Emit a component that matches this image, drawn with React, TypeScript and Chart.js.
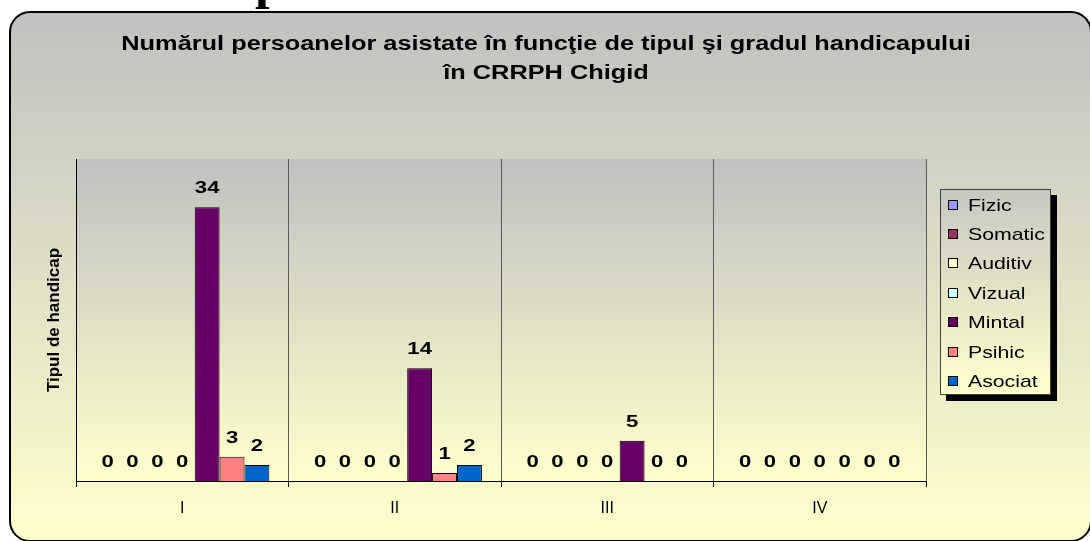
import React, { useEffect, useRef } from "react";
import { Chart, registerables } from "chart.js";

Chart.register(...registerables);

// ---------- data ----------
const categories = ["I", "II", "III", "IV"];
const seriesNames = ["Fizic", "Somatic", "Auditiv", "Vizual", "Mintal", "Psihic", "Asociat"];
const seriesColors = ["#9999FF", "#993366", "#FFFFCC", "#CCFFFF", "#660066", "#FF8080", "#0066CC"];
const fizic = [0, 0, 0, 0];
const somatic = [0, 0, 0, 0];
const auditiv = [0, 0, 0, 0];
const vizual = [0, 0, 0, 0];
const mintal = [34, 14, 5, 0];
const psihic = [3, 1, 0, 0];
const asociat = [2, 2, 0, 0];
const titleLines = [
  "Numărul persoanelor asistate în funcţie de tipul şi gradul handicapului",
  "în CRRPH Chigid",
];
const yAxisTitle = "Tipul de handicap";
const yMin = 0;
const yMax = 40;

const seriesValues = [fizic, somatic, auditiv, vizual, mintal, psihic, asociat];

const FONT = "'Liberation Sans', Arial, sans-serif";
const W = 1090;
const H = 541;

function stretchedText(
  ctx: CanvasRenderingContext2D,
  text: string,
  x: number,
  y: number,
  font: string,
  sx: number,
  align: "left" | "center"
) {
  ctx.save();
  ctx.font = font;
  ctx.textBaseline = "alphabetic";
  ctx.textAlign = "left";
  ctx.fillStyle = "#000";
  const w = ctx.measureText(text).width * sx;
  const left = align === "center" ? x - w / 2 : x;
  ctx.translate(left, y);
  ctx.scale(sx, 1);
  ctx.fillText(text, 0, 0);
  ctx.restore();
}

function roundRectPath(ctx: CanvasRenderingContext2D, x: number, y: number, w: number, h: number, r: number) {
  ctx.beginPath();
  ctx.moveTo(x + r, y);
  ctx.lineTo(x + w - r, y);
  ctx.arcTo(x + w, y, x + w, y + r, r);
  ctx.lineTo(x + w, y + h - r);
  ctx.arcTo(x + w, y + h, x + w - r, y + h, r);
  ctx.lineTo(x + r, y + h);
  ctx.arcTo(x, y + h, x, y + h - r, r);
  ctx.lineTo(x, y + r);
  ctx.arcTo(x, y, x + r, y, r);
  ctx.closePath();
}

const backgroundPlugin = {
  id: "frameBackground",
  beforeDraw(chart: any) {
    const ctx: CanvasRenderingContext2D = chart.ctx;
    ctx.save();
    ctx.fillStyle = "#FFFFFF";
    ctx.fillRect(0, 0, chart.width, chart.height);
    const fx = 10, fy = 12, fw = 1081, fh = 529;
    const g = ctx.createLinearGradient(0, fy, 0, fy + fh);
    g.addColorStop(0, "#C0C0C0");
    g.addColorStop(1, "#FFFFCC");
    roundRectPath(ctx, fx, fy, fw, fh, 20);
    ctx.fillStyle = g;
    ctx.fill();
    ctx.lineWidth = 2;
    ctx.strokeStyle = "#000";
    ctx.stroke();
    const { left, top, right, bottom } = chart.chartArea;
    const g2 = ctx.createLinearGradient(0, top, 0, bottom);
    g2.addColorStop(0, "#C0C0C0");
    g2.addColorStop(1, "#FFFFCC");
    ctx.fillStyle = g2;
    ctx.fillRect(left, top, right - left, bottom - top);
    ctx.restore();
  },
};

const labelsPlugin = {
  id: "valueLabels",
  afterDatasetsDraw(chart: any) {
    const ctx: CanvasRenderingContext2D = chart.ctx;
    chart.data.datasets.forEach((ds: any, i: number) => {
      const meta = chart.getDatasetMeta(i);
      meta.data.forEach((el: any, j: number) => {
        const v = ds.data[j];
        stretchedText(ctx, String(v), el.x, el.y - 14, `bold 17px ${FONT}`, 1.3, "center");
      });
    });
  },
};

const titleLegendPlugin = {
  id: "titleLegend",
  afterDraw(chart: any) {
    const ctx: CanvasRenderingContext2D = chart.ctx;
    // title
    const cx = 546;
    stretchedText(ctx, titleLines[0], cx, 50, `bold 19.5px ${FONT}`, 1.3, "center");
    stretchedText(ctx, titleLines[1], cx, 79, `bold 19.5px ${FONT}`, 1.3, "center");

    // legend
    const lx = 940, ly = 189, lw = 111, lh = 206;
    ctx.save();
    ctx.fillStyle = "#000";
    ctx.fillRect(lx + 6, ly + 6, lw, lh);
    const g = ctx.createLinearGradient(0, ly, 0, ly + lh);
    g.addColorStop(0, "#C8C8C2");
    g.addColorStop(1, "#FFFFCC");
    ctx.fillStyle = g;
    ctx.fillRect(lx, ly, lw, lh);
    ctx.lineWidth = 1;
    ctx.strokeStyle = "#404040";
    ctx.strokeRect(lx + 0.5, ly + 0.5, lw - 1, lh - 1);
    chart.data.datasets.forEach((ds: any, i: number) => {
      const cy = 204.5 + i * 29.4;
      ctx.fillStyle = ds.backgroundColor;
      ctx.fillRect(948, Math.round(cy - 5), 10, 10);
      ctx.strokeStyle = "#000";
      ctx.strokeRect(948.5, Math.round(cy - 5) + 0.5, 9, 9);
      stretchedText(ctx, ds.label, 968, cy + 6, `17px ${FONT}`, 1.25, "left");
    });
    ctx.restore();
  },
};

export default function App() {
  const canvasRef = useRef<HTMLCanvasElement | null>(null);

  useEffect(() => {
    document.body.style.margin = "0";
    const canvas = canvasRef.current;
    if (!canvas) return;
    const chart = new Chart(canvas, {
      type: "bar",
      data: {
        labels: categories,
        datasets: seriesNames.map((name, i) => ({
          label: name,
          data: seriesValues[i],
          backgroundColor: seriesColors[i],
          borderColor: "#000",
          borderWidth: 1,
          categoryPercentage: 0.82,
          barPercentage: 1,
        })),
      },
      options: {
        responsive: false,
        animation: false,
        devicePixelRatio: 1,
        layout: { padding: { left: 0, right: 164, top: 159, bottom: 0 } },
        plugins: {
          legend: { display: false },
          title: { display: false },
          tooltip: { enabled: false },
        },
        scales: {
          x: {
            grid: { offset: true, color: "#5A5A5A", tickColor: "#000", tickLength: 6, lineWidth: 1 },
            border: { display: true, color: "#000", width: 1 },
            ticks: { color: "#000", font: { family: FONT, size: 16 }, padding: 12 },
            afterFit: (s: any) => {
              s.height = 60;
            },
          },
          y: {
            min: yMin,
            max: yMax,
            ticks: { display: false },
            grid: { display: false },
            border: { display: true, color: "#000", width: 1 },
            title: {
              display: true,
              text: yAxisTitle,
              color: "#000",
              font: { family: FONT, size: 17, weight: "bold" },
              padding: { top: 44, bottom: 0 },
            },
            afterFit: (s: any) => {
              s.width = 76;
            },
          },
        },
      } as any,
      plugins: [backgroundPlugin, labelsPlugin, titleLegendPlugin],
    });
    return () => chart.destroy();
  }, []);

  return (
    <div style={{ position: "relative", width: W, height: H, overflow: "hidden", background: "#fff" }}>
      <canvas ref={canvasRef} width={W} height={H} style={{ position: "absolute", left: 0, top: 0 }} />
      <div
        style={{
          position: "absolute",
          left: 0,
          top: 0,
          width: W,
          height: 11,
          overflow: "hidden",
          pointerEvents: "none",
        }}
      >
        <span
          style={{
            position: "absolute",
            left: 255,
            top: -45,
            fontFamily: "'Liberation Serif', 'Times New Roman', serif",
            fontWeight: "bold",
            fontSize: 52,
            lineHeight: "52px",
            whiteSpace: "nowrap",
          }}
        >
          p
        </span>
      </div>
    </div>
  );
}
